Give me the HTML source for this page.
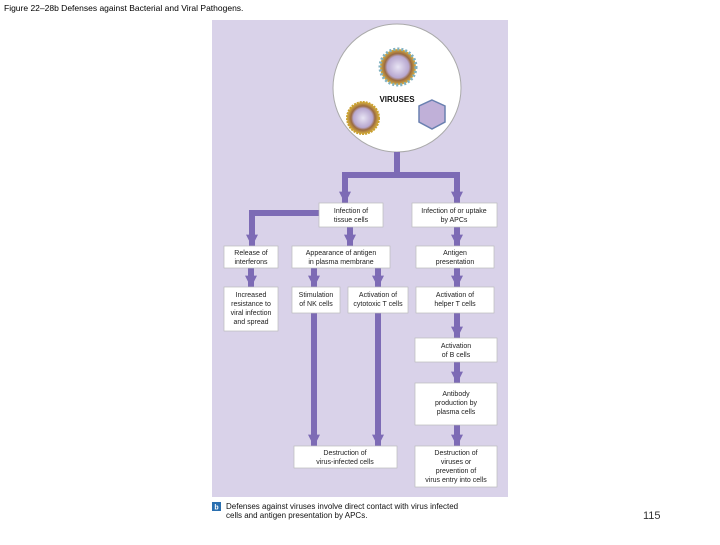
<!DOCTYPE html>
<html><head><style>
body{margin:0;background:#fff;width:720px;height:540px;overflow:hidden}
svg text{font-family:"Liberation Sans",sans-serif}
</style></head><body>
<svg width="720" height="540" viewBox="0 0 720 540" xmlns="http://www.w3.org/2000/svg">
<defs>
<marker id="a" markerWidth="2" markerHeight="2" refX="1.9" refY="1" orient="auto" markerUnits="strokeWidth">
<path d="M0,0 L2,1 L0,2 z" fill="#7d6bb5"/></marker>
<radialGradient id="v1" cx="50%" cy="50%" r="50%"><stop offset="0" stop-color="#e8e4f4"/><stop offset="0.6" stop-color="#b8a8d0"/><stop offset="0.75" stop-color="#9a6a40"/><stop offset="1" stop-color="#d8b040"/></radialGradient>
</defs>
<text x="4" y="11" font-size="8.5" fill="#000">Figure 22–28b Defenses against Bacterial and Viral Pathogens.</text>
<rect x="212" y="20" width="296" height="477" fill="#d9d2e9"/>
<circle cx="397" cy="88" r="64" fill="#fff" stroke="#aaa" stroke-width="1"/>
<circle cx="398" cy="67" r="18" fill="url(#v1)" stroke="#7fb0c0" stroke-width="3" stroke-dasharray="2 2"/>
<circle cx="363" cy="118" r="16" fill="url(#v1)" stroke="#c9a030" stroke-width="2" stroke-dasharray="2 1"/>
<polygon points="432,100 445,106 445,122 432,129 419,122 419,106" fill="#c0b0d8" stroke="#6a80b0" stroke-width="1.5"/>
<text x="397" y="102" font-size="8" font-weight="bold" text-anchor="middle" fill="#111">VIRUSES</text>
<g stroke="#7d6bb5" stroke-width="6" fill="none">
<path d="M397,152 V175 M342,175 H460"/>
<path d="M345,175 V203" marker-end="url(#a)"/>
<path d="M457,175 V203" marker-end="url(#a)"/>
<path d="M319,213 H252 V246" marker-end="url(#a)"/>
<path d="M350,227 V246" marker-end="url(#a)"/>
<path d="M457,227 V246" marker-end="url(#a)"/>
<path d="M251,268 V287" marker-end="url(#a)"/>
<path d="M314,268 V287" marker-end="url(#a)"/>
<path d="M378,268 V287" marker-end="url(#a)"/>
<path d="M457,268 V287" marker-end="url(#a)"/>
<path d="M314,313 V446" marker-end="url(#a)"/>
<path d="M378,313 V446" marker-end="url(#a)"/>
<path d="M457,313 V338" marker-end="url(#a)"/>
<path d="M457,362 V383" marker-end="url(#a)"/>
<path d="M457,425 V446" marker-end="url(#a)"/>
</g>
<g fill="#fff" stroke="#bbb" stroke-width="0.7">
<rect x="319" y="203" width="64" height="24"/>
<rect x="412" y="203" width="85" height="24"/>
<rect x="224" y="246" width="54" height="22"/>
<rect x="292" y="246" width="98" height="22"/>
<rect x="416" y="246" width="78" height="22"/>
<rect x="224" y="287" width="54" height="44"/>
<rect x="292" y="287" width="48" height="26"/>
<rect x="348" y="287" width="60" height="26"/>
<rect x="416" y="287" width="78" height="26"/>
<rect x="415" y="338" width="82" height="24"/>
<rect x="415" y="383" width="82" height="42"/>
<rect x="294" y="446" width="103" height="22"/>
<rect x="415" y="446" width="82" height="41"/>
</g>
<g font-size="7" text-anchor="middle" fill="#222">
<text x="351" y="213">Infection of</text><text x="351" y="222">tissue cells</text>
<text x="454" y="213">Infection of or uptake</text><text x="454" y="222">by APCs</text>
<text x="251" y="255">Release of</text><text x="251" y="264">interferons</text>
<text x="341" y="255">Appearance of antigen</text><text x="341" y="264">in plasma membrane</text>
<text x="455" y="255">Antigen</text><text x="455" y="264">presentation</text>
<text x="251" y="297">Increased</text><text x="251" y="306">resistance to</text><text x="251" y="315">viral infection</text><text x="251" y="324">and spread</text>
<text x="316" y="297">Stimulation</text><text x="316" y="306">of NK cells</text>
<text x="378" y="297">Activation of</text><text x="378" y="306">cytotoxic T cells</text>
<text x="455" y="297">Activation of</text><text x="455" y="306">helper T cells</text>
<text x="456" y="348">Activation</text><text x="456" y="357">of B cells</text>
<text x="456" y="396">Antibody</text><text x="456" y="405">production by</text><text x="456" y="414">plasma cells</text>
<text x="345" y="455">Destruction of</text><text x="345" y="464">virus-infected cells</text>
<text x="456" y="455">Destruction of</text><text x="456" y="464">viruses or</text><text x="456" y="473">prevention of</text><text x="456" y="482">virus entry into cells</text>
</g>
<rect x="212" y="502" width="9" height="9" fill="#2a6fb0"/>
<text x="216.5" y="509.5" font-size="7" font-weight="bold" fill="#fff" text-anchor="middle">b</text>
<text x="226" y="509" font-size="8" fill="#111">Defenses against viruses involve direct contact with virus infected</text>
<text x="226" y="518" font-size="8" fill="#111">cells and antigen presentation by APCs.</text>
<text x="643" y="519" font-size="11" fill="#333">115</text>
</svg>
</body></html>
